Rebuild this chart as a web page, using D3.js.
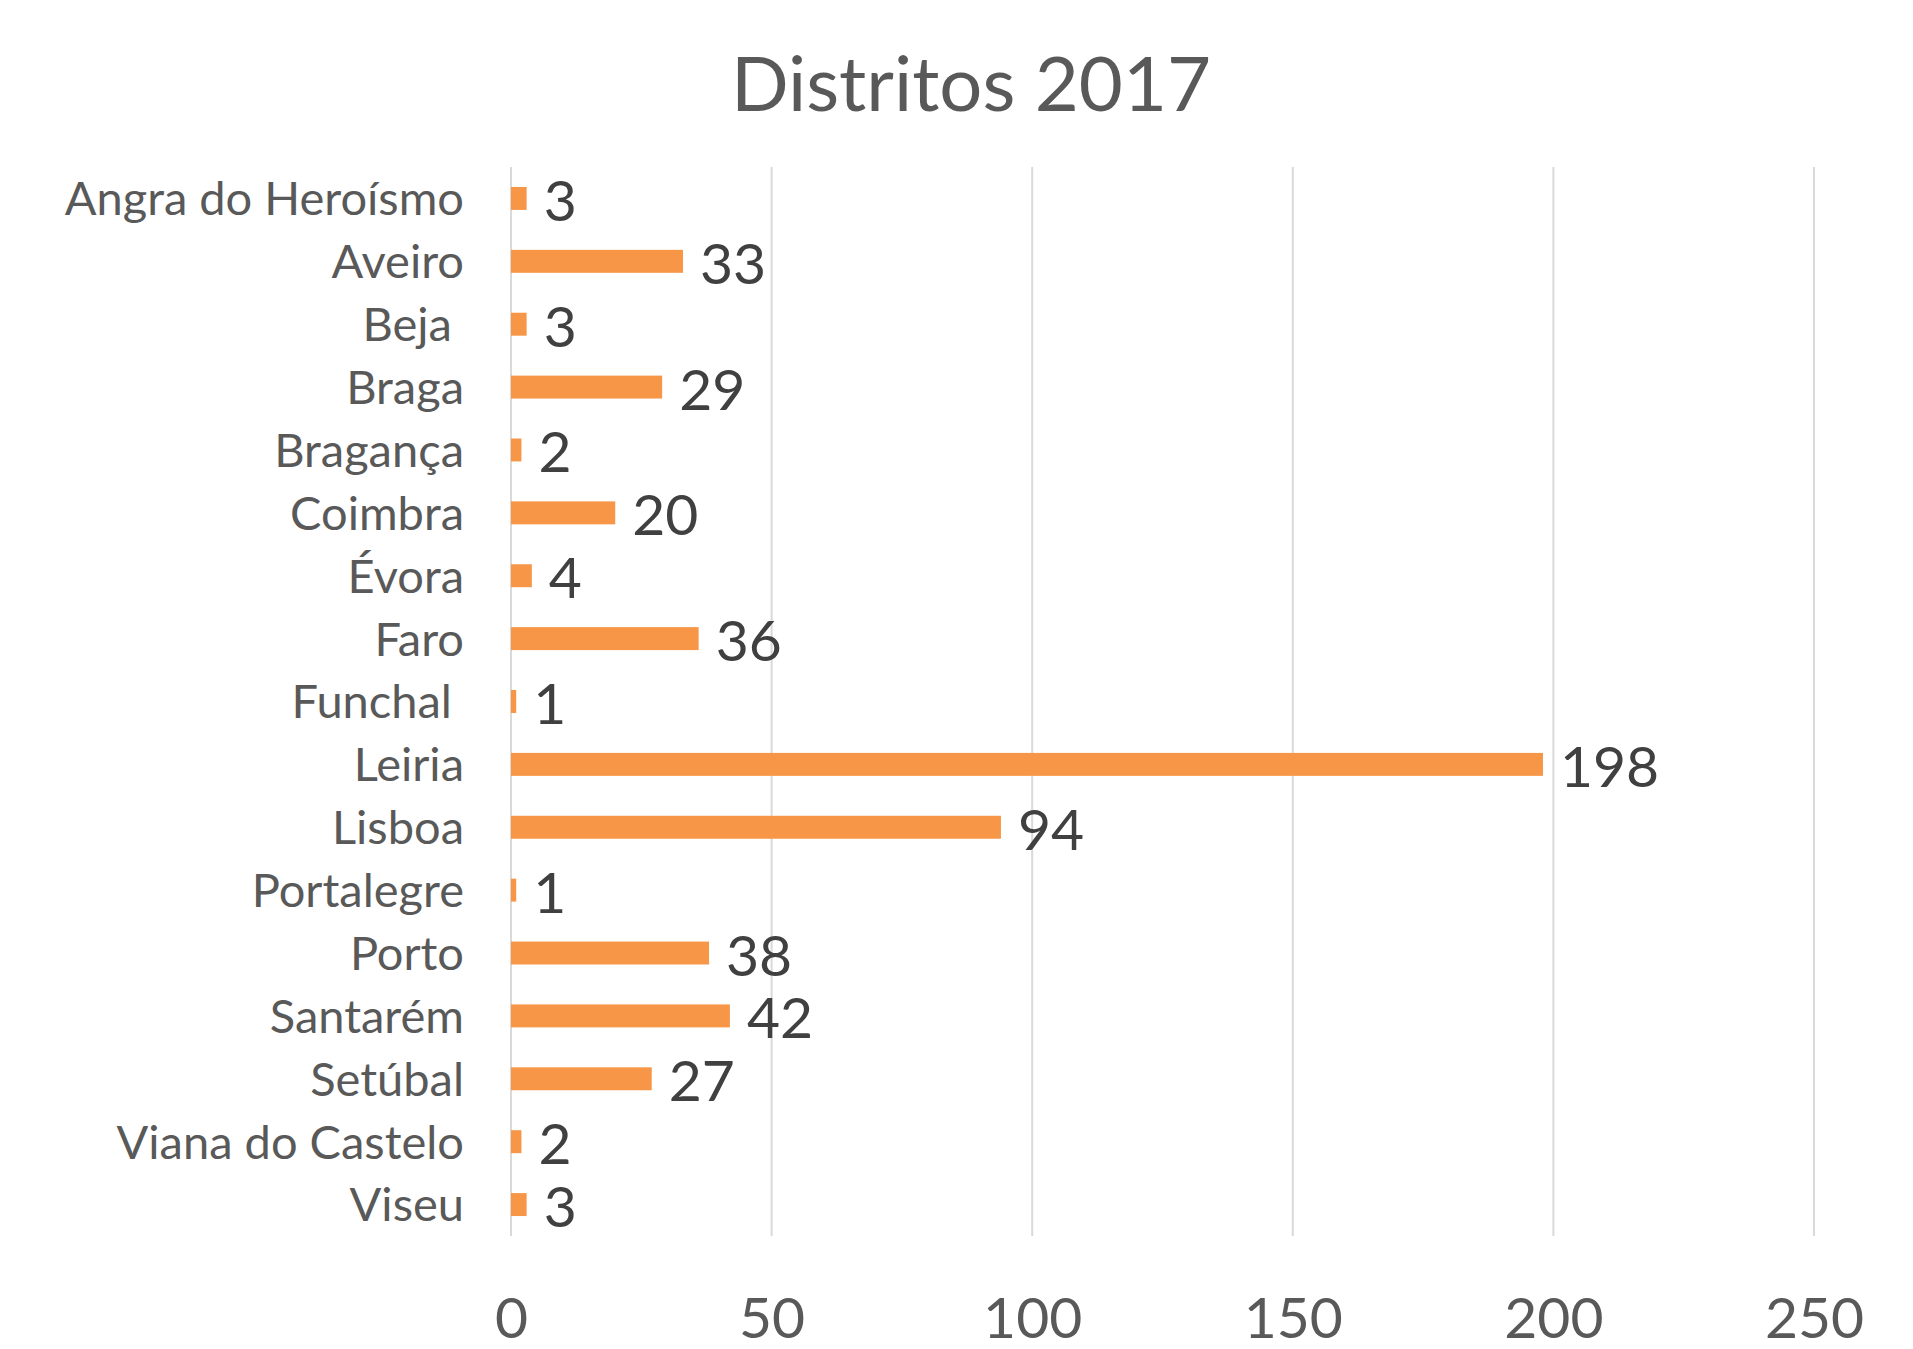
<!DOCTYPE html>
<html>
<head>
<meta charset="utf-8">
<script src="https://cdn.jsdelivr.net/npm/d3@7"></script>
<style>
  html, body { margin: 0; padding: 0; background: #fff; }
  svg text { font-family: Lato, "Open Sans", sans-serif; white-space: pre; }
</style>
</head>
<body>
<svg id="chart"></svg>
<script>
// dados
const distritos = ['Angra do Heroísmo', 'Aveiro', 'Beja ', 'Braga', 'Bragança', 'Coimbra', 'Évora', 'Faro',
  'Funchal ', 'Leiria', 'Lisboa', 'Portalegre', 'Porto', 'Santarém', 'Setúbal', 'Viana do Castelo', 'Viseu'];
const valores = [3, 33, 3, 29, 2, 20, 4, 36, 1, 198, 94, 1, 38, 42, 27, 2, 3];
const xTicks = [0, 50, 100, 150, 200, 250];
const titulo = 'Distritos 2017';

const W = 1913, H = 1349;
const plot = { left: 511, right: 1814, top: 167, bottom: 1236 };

const svg = d3.select('#chart').attr('width', W).attr('height', H);

const x = d3.scaleLinear().domain([0, 250]).range([plot.left, plot.right]);
const y = d3.scaleBand().domain(distritos).range([plot.top, plot.bottom]).paddingInner(0.635).paddingOuter(0.3175);

// grelha vertical
svg.append('g')
  .selectAll('line')
  .data(xTicks)
  .join('line')
  .attr('x1', d => x(d)).attr('x2', d => x(d))
  .attr('y1', plot.top).attr('y2', plot.bottom)
  .attr('stroke', '#d9d9d9')
  .attr('stroke-width', 2);

// eixo x (só etiquetas)
const xAxis = svg.append('g')
  .attr('transform', `translate(0,${plot.bottom})`)
  .call(d3.axisBottom(x).tickValues(xTicks).tickSize(0).tickPadding(0));
xAxis.select('.domain').remove();
xAxis.selectAll('text')
  .attr('y', 102)
  .attr('dy', null)
  .attr('font-size', 57)
  .attr('fill', '#595959');

// eixo y (categorias)
const yAxis = svg.append('g')
  .attr('transform', `translate(${plot.left},0)`)
  .call(d3.axisLeft(y).tickSize(0).tickPadding(0));
yAxis.select('.domain').remove();
yAxis.selectAll('text')
  .attr('x', 464 - plot.left)
  .attr('dy', '0.36em')
  .attr('font-size', 47)
  .attr('fill', '#595959')
  .attr('text-anchor', 'end');

// barras
svg.append('g')
  .selectAll('rect')
  .data(distritos)
  .join('rect')
  .attr('x', x(0))
  .attr('y', d => y(d))
  .attr('width', (d, i) => x(valores[i]) - x(0))
  .attr('height', y.bandwidth())
  .attr('fill', '#f79646');

// rótulos de valores
svg.append('g')
  .selectAll('text')
  .data(distritos)
  .join('text')
  .attr('x', (d, i) => x(valores[i]) + 17)
  .attr('y', d => y(d) + y.bandwidth() / 2 + 2)
  .attr('dy', '0.36em')
  .attr('font-size', 57)
  .attr('fill', '#404040')
  .text((d, i) => valores[i]);

// título
svg.append('text')
  .attr('x', 971)
  .attr('y', 111)
  .attr('text-anchor', 'middle')
  .attr('font-size', 76)
  .attr('fill', '#595959')
  .text(titulo);
</script>
</body>
</html>
